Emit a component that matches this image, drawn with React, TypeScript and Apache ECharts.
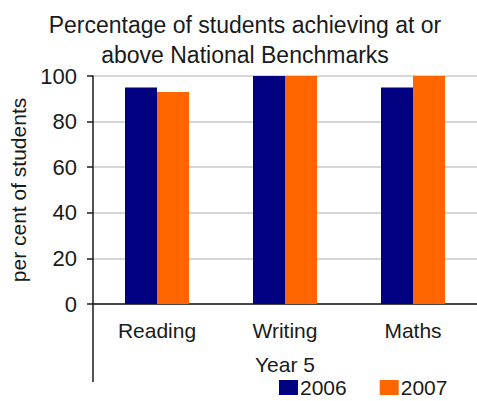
import React, { useEffect, useRef } from "react";
import * as echarts from "echarts";

const categories = ["Reading", "Writing", "Maths"];
const values2006 = [95, 100, 95];
const values2007 = [93, 100, 100];
const yTicks = [0, 20, 40, 60, 80, 100];

const FONT = "'Liberation Sans', Arial, sans-serif";
const INK = "#1a1a1a";

export default function App() {
  const ref = useRef<HTMLDivElement>(null);

  useEffect(() => {
    document.body.style.margin = "0";
    if (!ref.current) return;
    const chart = echarts.init(ref.current, undefined, { renderer: "svg" });
    chart.setOption({
      animation: false,
      backgroundColor: "#ffffff",
      title: {
        text: "Percentage of students achieving at or\nabove National Benchmarks",
        left: 240,
        textAlign: "center",
        top: 5,
        textStyle: {
          fontFamily: FONT,
          fontSize: 23,
          fontWeight: "normal",
          color: INK,
          lineHeight: 30,
        },
      },
      legend: {
        left: 274,
        top: 372,
        itemWidth: 19,
        itemHeight: 15,
        itemGap: 33,
        icon: "rect",
        textStyle: { fontFamily: FONT, fontSize: 21, color: INK, padding: [0, 0, 0, -3] },
        data: ["2006", "2007"],
      },
      grid: { left: 93, top: 76, width: 386, height: 228, containLabel: false },
      xAxis: {
        type: "category",
        data: categories,
        name: "Year 5",
        nameLocation: "middle",
        nameGap: 50,
        nameTextStyle: { fontFamily: FONT, fontSize: 21, color: INK },
        axisLine: { lineStyle: { color: INK, width: 1.5 } },
        axisTick: { show: false },
        axisLabel: { fontFamily: FONT, fontSize: 21, color: INK, margin: 16 },
      },
      yAxis: {
        type: "value",
        min: yTicks[0],
        max: yTicks[yTicks.length - 1],
        interval: yTicks[1] - yTicks[0],
        name: "per cent of students",
        nameLocation: "middle",
        nameGap: 61,
        nameTextStyle: { fontFamily: FONT, fontSize: 21, color: INK },
        axisLine: { show: true, lineStyle: { color: INK, width: 1.5 } },
        axisTick: { show: true, length: 6, lineStyle: { color: INK, width: 1.5 } },
        axisLabel: { fontFamily: FONT, fontSize: 22, color: INK, margin: 16 },
        splitLine: { show: true, lineStyle: { color: "#c8c8c8", width: 1.5 } },
      },
      graphic: [
        {
          type: "line",
          shape: { x1: 93, y1: 304, x2: 93, y2: 382 },
          style: { stroke: INK, lineWidth: 1.5 },
        },
      ],
      series: [
        {
          name: "2006",
          type: "bar",
          data: values2006,
          barWidth: 32,
          barGap: "0%",
          itemStyle: { color: "#000080" },
        },
        {
          name: "2007",
          type: "bar",
          data: values2007,
          barWidth: 32,
          barGap: "0%",
          itemStyle: { color: "#ff6600" },
        },
      ],
    });
    return () => chart.dispose();
  }, []);

  return <div ref={ref} style={{ width: 477, height: 401 }} />;
}
